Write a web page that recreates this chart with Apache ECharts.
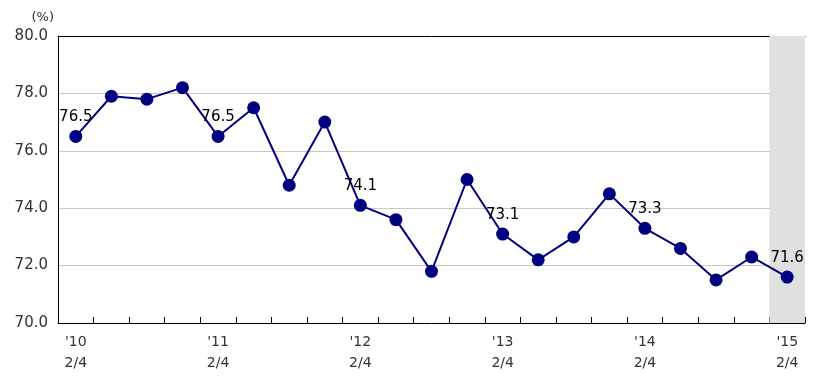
<!DOCTYPE html>
<html>
<head>
<meta charset="utf-8">
<script src="https://cdn.jsdelivr.net/npm/echarts@6/dist/echarts.min.js"></script>
<style>
html,body{margin:0;padding:0;background:#fff;}
#c{width:814px;height:382px;}
</style>
</head>
<body>
<div id="c"></div>
<script>
// Categories (quarters), '10 2/4 .. '15 2/4
var categories = [
  "'10\n2/4","3/4","4/4","'11\n1/4",
  "'11\n2/4","3/4","4/4","'12\n1/4",
  "'12\n2/4","3/4","4/4","'13\n1/4",
  "'13\n2/4","3/4","4/4","'14\n1/4",
  "'14\n2/4","3/4","4/4","'15\n1/4",
  "'15\n2/4"
];
// Series values (%)
var values = [76.5, 77.9, 77.8, 78.2, 76.5, 77.5, 74.8, 77.0, 74.1, 73.6, 71.8, 75.0,
              73.1, 72.2, 73.0, 74.5, 73.3, 72.6, 71.5, 72.3, 71.6];
// Indices of points whose value is labelled
var labelled = [0, 4, 8, 12, 16, 20];
// Shaded (latest) period
var shaded = [null,null,null,null,null,null,null,null,null,null,null,null,null,null,null,null,null,null,null,null,80];
// Y-axis ticks
var yMin = 70, yMax = 80, yStep = 2;

var font = "DejaVu Sans";
var lineData = values.map(function(v, i){
  return {value: v, label: {show: labelled.indexOf(i) >= 0}};
});

var chart = echarts.init(document.getElementById('c'));
chart.setOption({
  animation: false,
  grid: {left: 58, right: 9, top: 36, bottom: 59},
  xAxis: [{
    type: 'category',
    data: categories,
    boundaryGap: true,
    axisLine: {show: true, lineStyle: {color: '#000', width: 1}},
    axisTick: {show: true, interval: 0, inside: true, length: 6, lineStyle: {color: '#000'}},
    axisLabel: {
      interval: 3, color: '#333', fontFamily: font, fontSize: 14, lineHeight: 21, margin: 9,
      formatter: function(v){ return v; }
    },
    splitLine: {show: false}
  },{
    type: 'category',
    position: 'top',
    data: categories,
    axisLine: {show: true, lineStyle: {color: '#000', width: 1}},
    axisTick: {show: false},
    axisLabel: {show: false}
  }],
  yAxis: {
    type: 'value',
    min: yMin, max: yMax, interval: yStep,
    name: '(%)',
    nameLocation: 'end',
    nameGap: 12,
    nameTextStyle: {color: '#333', fontFamily: font, fontSize: 13, align: 'right', padding: [0, 4, 0, 0]},
    axisLine: {show: true, lineStyle: {color: '#000', width: 1}},
    axisTick: {show: false},
    axisLabel: {color: '#333', fontFamily: font, fontSize: 15, margin: 10,
      formatter: function(v){ return v.toFixed(1); }},
    splitLine: {show: true, lineStyle: {color: '#c8c8c8', width: 1}}
  },
  series: [{
    type: 'bar',
    data: shaded,
    barWidth: '100%',
    itemStyle: {color: '#e0e0e0'},
    silent: true,
    z: 1
  },{
    type: 'line',
    data: lineData,
    symbol: 'circle',
    symbolSize: 13,
    lineStyle: {color: '#000080', width: 2},
    itemStyle: {color: '#000080'},
    label: {
      position: 'top', distance: 5, color: '#000', fontFamily: font, fontSize: 15,
      formatter: function(p){ return p.value.toFixed(1); }
    },
    z: 3
  }]
});
</script>
</body>
</html>
